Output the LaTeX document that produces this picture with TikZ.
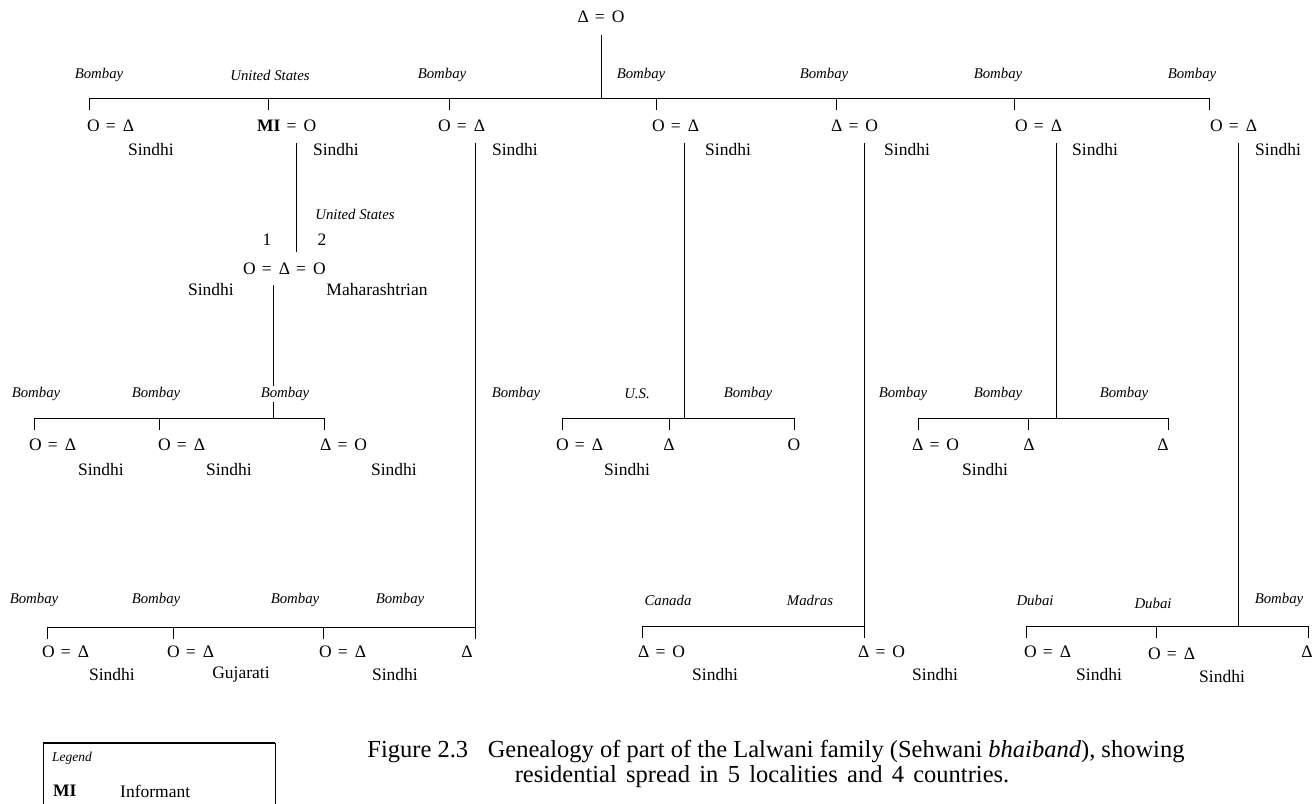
\documentclass[tikz,border=0pt]{standalone}
\usepackage{fontspec}
\setmainfont{Liberation Serif}
\newcommand{\dlt}{Δ}
\newcommand{\eq}{\hspace{0.35em}=\hspace{0.4em}}
\tikzset{
  ln/.style={line width=1pt},
  cpl/.style={font=\fontsize{17.5}{20}\selectfont, inner sep=0pt, anchor=west},
  sym/.style={font=\fontsize{17.5}{20}\selectfont, inner sep=0pt},
  eth/.style={font=\fontsize{17.5}{20}\selectfont, inner sep=0pt},
  loc/.style={font=\fontsize{14.8}{17}\selectfont\itshape, inner sep=1pt},
  capt/.style={font=\fontsize{24.5}{26}\selectfont, inner sep=0pt},
}
\begin{document}
\begin{tikzpicture}[x=1pt,y=-1pt]
\useasboundingbox (0,0) rectangle (1313,803);

% ---------- top couple ----------
\node[sym] (top) at (601,17) {\dlt\eq O};
\coordinate (g1m) at (601,98);
\draw[ln, shorten <=12pt] (top.south) -- (g1m);

% ---------- generation 1 ----------
\coordinate (d11) at (89,98);
\coordinate (d12) at (268,98);
\coordinate (d13) at (449,98);
\coordinate (d14) at (656,98);
\coordinate (d15) at (836,98);
\coordinate (d16) at (1014,98);
\coordinate (d17) at (1209,98);
\draw[ln] (d11) -- (d17);
\foreach \n in {d11,d12,d13,d14,d15,d16,d17} \draw[ln] (\n) -- ++(0,12);

\node[loc] (p11) at (99,75) {Bombay};
\node[loc] (p12) at (270,75) {United States};
\node[loc] (p13) at (442,75) {Bombay};
\node[loc] (p14) at (641,75) {Bombay};
\node[loc] (p15) at (824,75) {Bombay};
\node[loc] (p16) at (998,75) {Bombay};
\node[loc] (p17) at (1192,75) {Bombay};

\node[cpl] (c1) at (87,126) {O\eq\dlt};
\node[cpl] (c2) at (257,126) {\textbf{MI}\eq O};
\node[cpl] (c3) at (438,126) {O\eq\dlt};
\node[cpl] (c4) at (652,126) {O\eq\dlt};
\node[cpl] (c5) at (831,126) {\dlt\eq O};
\node[cpl] (c6) at (1015,126) {O\eq\dlt};
\node[cpl] (c7) at (1210,126) {O\eq\dlt};

\node[eth] (e1) at (151,150) {Sindhi};
\node[eth] (e2) at (336,150) {Sindhi};
\node[eth] (e3) at (515,150) {Sindhi};
\node[eth] (e4) at (728,150) {Sindhi};
\node[eth] (e5) at (907,150) {Sindhi};
\node[eth] (e6) at (1095,150) {Sindhi};
\node[eth] (e7) at (1278,150) {Sindhi};

% descents
\coordinate (s2) at (296,143); \coordinate (s2e) at (296,252);
\coordinate (s3) at (475,143); \coordinate (b3m) at (475,627);
\coordinate (s4) at (684,143); \coordinate (b4m) at (684,418);
\coordinate (s5) at (864,143); \coordinate (b5m) at (864,626);
\coordinate (s6) at (1056,143); \coordinate (b6m) at (1056,418);
\coordinate (s7) at (1238,143); \coordinate (b7m) at (1238,626);
\draw[ln] (s2) -- (s2e);
\draw[ln] (s3) -- (b3m);
\draw[ln] (s4) -- (b4m);
\draw[ln] (s5) -- (b5m);
\draw[ln] (s6) -- (b6m);
\draw[ln] (s7) -- (b7m);

% ---------- MI's second marriage ----------
\node[loc] (pm) at (355,214) {United States};
\node[eth] (n1) at (267,240) {1};
\node[eth] (n2) at (322,240) {2};
\node[cpl] (m1) at (243,269) {O\eq\dlt\eq O};
\node[eth] (em1) at (211,290) {Sindhi};
\node[eth] (em2) at (377,290) {Maharashtrian};
\coordinate (sm) at (273,285); \coordinate (bmm) at (273,418);
\draw[ln] (sm) -- (bmm);

\coordinate (a1) at (34,418);
\coordinate (a2) at (159,418);
\coordinate (a3) at (324,418);
\draw[ln] (a1) -- (a3);
\foreach \n in {a1,a2,a3} \draw[ln] (\n) -- ++(0,12);
\node[loc] (pa1) at (36,394) {Bombay};
\node[loc] (pa2) at (156,394) {Bombay};
\node[loc, fill=white] (pa3) at (285,394) {Bombay};
\node[cpl] (ca1) at (29,445) {O\eq\dlt};
\node[cpl] (ca2) at (158,445) {O\eq\dlt};
\node[cpl] (ca3) at (320,445) {\dlt\eq O};
\node[eth] (ea1) at (101,470) {Sindhi};
\node[eth] (ea2) at (229,470) {Sindhi};
\node[eth] (ea3) at (394,470) {Sindhi};

% ---------- children of c4 ----------
\coordinate (f1) at (562,418);
\coordinate (f2) at (669,418);
\coordinate (f3) at (794,418);
\draw[ln] (f1) -- (f3);
\foreach \n in {f1,f2,f3} \draw[ln] (\n) -- ++(0,12);
\node[loc] (pf1) at (516,394) {Bombay};
\node[loc] (pf2) at (637,394) {U.S.};
\node[loc] (pf3) at (748,394) {Bombay};
\node[cpl] (cf1) at (556,445) {O\eq\dlt};
\node[sym] (cf2) at (669,445) {\dlt};
\node[sym] (cf3) at (794,445) {O};
\node[eth] (ef1) at (627,470) {Sindhi};

% ---------- children of c6 ----------
\coordinate (h1) at (918,418);
\coordinate (h2) at (1028,418);
\coordinate (h3) at (1168,418);
\draw[ln] (h1) -- (h3);
\foreach \n in {h1,h2,h3} \draw[ln] (\n) -- ++(0,12);
\node[loc] (ph1) at (903,394) {Bombay};
\node[loc] (ph2) at (998,394) {Bombay};
\node[loc] (ph3) at (1124,394) {Bombay};
\node[cpl] (ch1) at (912,445) {\dlt\eq O};
\node[sym] (ch2) at (1029,445) {\dlt};
\node[sym] (ch3) at (1163,445) {\dlt};
\node[eth] (eh1) at (985,470) {Sindhi};

% ---------- children of c3 ----------
\coordinate (k1) at (47,627);
\coordinate (k2) at (173,627);
\coordinate (k3) at (323,627);
\coordinate (k4) at (475,627);
\draw[ln] (k1) -- (k4);
\foreach \n in {k1,k2,k3,k4} \draw[ln] (\n) -- ++(0,12);
\node[loc] (pk1) at (34,600) {Bombay};
\node[loc] (pk2) at (156,600) {Bombay};
\node[loc] (pk3) at (295,600) {Bombay};
\node[loc] (pk4) at (400,600) {Bombay};
\node[cpl] (ck1) at (42,652) {O\eq\dlt};
\node[cpl] (ck2) at (167,652) {O\eq\dlt};
\node[cpl] (ck3) at (319,652) {O\eq\dlt};
\node[sym] (ck4) at (467,652) {\dlt};
\node[eth] (ek1) at (112,675) {Sindhi};
\node[eth] (ek2) at (241,675) {Gujarati};
\node[eth] (ek3) at (395,675) {Sindhi};

% ---------- children of c5 ----------
\coordinate (q1) at (642,626);
\coordinate (q2) at (864,626);
\draw[ln] (q1) -- (q2);
\foreach \n in {q1,q2} \draw[ln] (\n) -- ++(0,12);
\node[loc] (pq1) at (668,600) {Canada};
\node[loc] (pq2) at (810,600) {Madras};
\node[cpl] (cq1) at (638,652) {\dlt\eq O};
\node[cpl] (cq2) at (858,652) {\dlt\eq O};
\node[eth] (eq1) at (715,675) {Sindhi};
\node[eth] (eq2) at (935,675) {Sindhi};

% ---------- children of c7 ----------
\coordinate (r1) at (1026,626);
\coordinate (r2) at (1156,626);
\coordinate (r3) at (1308,626);
\draw[ln] (r1) -- (r3);
\foreach \n in {r1,r2,r3} \draw[ln] (\n) -- ++(0,12);
\node[loc] (pr1) at (1035,600) {Dubai};
\node[loc] (pr2) at (1153,603) {Dubai};
\node[loc] (pr3) at (1279,600) {Bombay};
\node[cpl] (cr1) at (1024,652) {O\eq\dlt};
\node[cpl] (cr2) at (1148,654) {O\eq\dlt};
\node[sym] (cr3) at (1307,652) {\dlt};
\node[eth] (er1) at (1099,675) {Sindhi};
\node[eth] (er2) at (1222,677) {Sindhi};

% ---------- legend ----------
\coordinate (lgA) at (43,810);
\coordinate (lgB) at (43,743);
\coordinate (lgC) at (275,743);
\coordinate (lgD) at (275,810);
\draw[line width=0.8pt] (lgA) -- (lgB) -- (lgC) -- (lgD);
\draw[line width=1.5pt] (lgB) -- (lgC);
\node[loc, anchor=west, font=\fontsize{13.5}{15}\selectfont\itshape] (lgt) at (51,758) {Legend};
\node[eth, anchor=west] (lmi) at (53,791) {\textbf{MI}};
\node[eth, anchor=west] (linf) at (120,791) {Informant};

% ---------- caption ----------
\node[capt] (cap1) at (776,752)
  {Figure 2.3\hspace{0.55em} Genealogy of part of the Lalwani family (Sehwani \textit{bhaiband}), showing};
\node[capt] (cap2) at (762,777)
  {\spaceskip=0.38em plus 0.1em residential spread in 5 localities and 4 countries.};
\end{tikzpicture}
\end{document}
